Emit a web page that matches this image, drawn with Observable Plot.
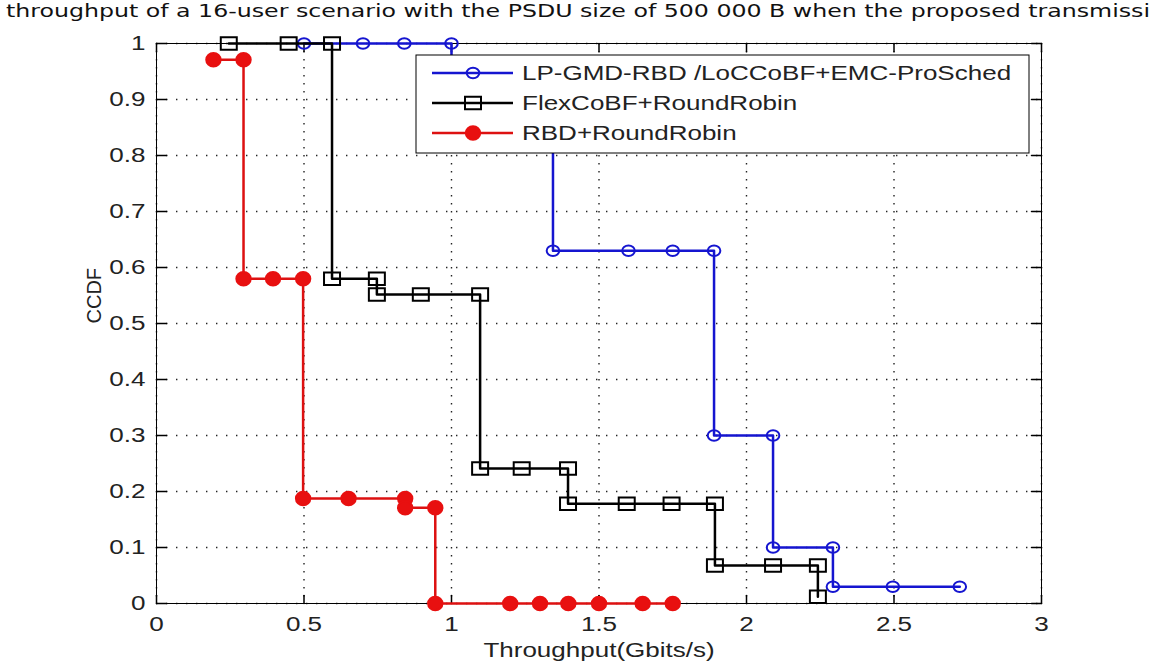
<!DOCTYPE html>
<html><head><meta charset="utf-8">
<script src="https://cdn.jsdelivr.net/npm/d3@7"></script>
<script src="https://cdn.jsdelivr.net/npm/@observablehq/plot@0.6"></script>
<style>
body{margin:0;background:#fff;width:1157px;height:666px;overflow:hidden;}
#title{height:24px;line-height:22px;white-space:nowrap;font-family:"Liberation Sans Narrow","Arial Narrow","DejaVu Sans Condensed","Liberation Sans",sans-serif;font-size:18px;color:#111;padding-left:6px;}
#title span{display:inline-block;transform-origin:0 50%;}
</style></head><body>
<div id="title"><span>throughput of a 16-user scenario with the PSDU size of 500 000 B when the proposed transmissi</span></div>
<div id="chart"></div>
<script>
// ---- data ----
const seriesNames = ["LP-GMD-RBD /LoCCoBF+EMC-ProSched", "FlexCoBF+RoundRobin", "RBD+RoundRobin"];
const seriesColors = ["#1515d0", "#000000", "#dd1111"];
const xTicks = [0, 0.5, 1, 1.5, 2, 2.5, 3];
const yTicks = [0, 0.1, 0.2, 0.3, 0.4, 0.5, 0.6, 0.7, 0.8, 0.9, 1];
const xLabel = "Throughput(Gbits/s)";
const yLabel = "CCDF";

const blueX = [0.5, 0.7, 0.84, 1.0, 1.0, 1.344, 1.344, 1.6, 1.75, 1.89, 1.89, 2.09, 2.09, 2.293, 2.293, 2.496, 2.723];
const blueY = [1, 1, 1, 1, 0.88, 0.88, 0.63, 0.63, 0.63, 0.63, 0.30, 0.30, 0.10, 0.10, 0.03, 0.03, 0.03];

const blackX = [0.245, 0.448, 0.595, 0.595, 0.747, 0.747, 0.896, 1.097, 1.097, 1.238, 1.395, 1.395, 1.594, 1.746, 1.893, 1.893, 2.09, 2.242, 2.242];
const blackY = [1, 1, 1, 0.58, 0.58, 0.552, 0.552, 0.552, 0.241, 0.241, 0.241, 0.178, 0.178, 0.178, 0.178, 0.068, 0.068, 0.068, 0.012];

const redX = [0.193, 0.295, 0.295, 0.395, 0.497, 0.497, 0.651, 0.843, 0.843, 0.945, 0.945, 1.199, 1.30, 1.396, 1.50, 1.648, 1.75];
const redY = [0.971, 0.971, 0.58, 0.58, 0.58, 0.1875, 0.1875, 0.1875, 0.171, 0.171, 0, 0, 0, 0, 0, 0, 0];

// ---- build tables ----
const toRows = (xs, ys) => xs.map((x, i) => ({x, y: ys[i]}));
const series = [toRows(blueX, blueY), toRows(blackX, blackY), toRows(redX, redY)];

// marker shapes (MATLAB 'o', 's', filled 'o')
function ellipseSym(rx, ry) {
  const k = 0.5523;
  return {draw(c) {
    c.moveTo(rx, 0);
    c.bezierCurveTo(rx, ry * k, rx * k, ry, 0, ry);
    c.bezierCurveTo(-rx * k, ry, -rx, ry * k, -rx, 0);
    c.bezierCurveTo(-rx, -ry * k, -rx * k, -ry, 0, -ry);
    c.bezierCurveTo(rx * k, -ry, rx, -ry * k, rx, 0);
    c.closePath();
  }};
}
function rectSym(w, h) {
  return {draw(c) { c.moveTo(-w/2, -h/2); c.lineTo(w/2, -h/2); c.lineTo(w/2, h/2); c.lineTo(-w/2, h/2); c.closePath(); }};
}
const markerDefs = [
  {symbol: ellipseSym(6.3, 5.3), fill: "none"},
  {symbol: rectSym(16, 12.5), fill: "none"},
  {symbol: ellipseSym(7.2, 6.8), fill: "#e81010"}
];
const tickShape = {draw(c, l) { c.moveTo(0, 0); c.lineTo(0, -l); }};

// legend drawn in frame coordinates (MATLAB NorthEast legend)
function legendMark(index, scales, values, dims) {
  const right = dims.width - dims.marginRight - 12;
  const left = dims.marginLeft + 260;
  const top = dims.marginTop + 12;
  const g = d3.create("svg:g").attr("class", "legend").attr("text-anchor", "start");
  g.append("rect").attr("x", left).attr("y", top).attr("width", right - left).attr("height", 98)
    .attr("fill", "white").attr("stroke", "black").attr("stroke-width", 1);
  seriesNames.forEach((name, i) => {
    const cy = top + 18 + i * 30;
    g.append("line").attr("x1", left + 16).attr("x2", left + 97).attr("y1", cy).attr("y2", cy)
      .attr("stroke", seriesColors[i]).attr("stroke-width", 2.5);
    const p = d3.path();
    markerDefs[i].symbol.draw(p);
    g.append("path").attr("d", p.toString()).attr("transform", `translate(${left + 57},${cy})`)
      .attr("fill", markerDefs[i].fill).attr("stroke", i === 2 ? "#e81010" : seriesColors[i]).attr("stroke-width", 2);
    g.append("text").attr("x", left + 106).attr("y", cy).attr("dy", "0.36em")
      .attr("text-anchor", "start").attr("fill", "#222").text(name);
  });
  return g.node();
}

const seriesMarks = series.flatMap((rows, i) => [
  Plot.line(rows, {x: "x", y: "y", stroke: seriesColors[i], strokeWidth: 2.5}),
  Plot.dot(rows, {x: "x", y: "y", symbol: markerDefs[i].symbol, fill: markerDefs[i].fill,
    stroke: i === 2 ? "#e81010" : seriesColors[i], strokeWidth: 2})
]);

const plot = Plot.plot({
  width: 1157,
  height: 642,
  marginTop: 19,
  marginBottom: 63,
  marginLeft: 156,
  marginRight: 116,
  style: {fontFamily: "'Liberation Sans', Arial, sans-serif", fontSize: "20px", background: "white", color: "#222"},
  x: {domain: [0, 3], ticks: xTicks, tickFormat: d => String(d), tickSize: 0, tickPadding: 13, label: null},
  y: {domain: [0, 1], ticks: yTicks, tickFormat: d => String(d), tickSize: 0, tickPadding: 11, label: null},
  marks: [
    Plot.gridX(xTicks, {stroke: "#222", strokeOpacity: 1, strokeWidth: 1.4, strokeDasharray: "1.4,6.6"}),
    Plot.gridY(yTicks, {stroke: "#222", strokeOpacity: 1, strokeWidth: 1.4, strokeDasharray: "1.4,8.6"}),
    Plot.vectorX(xTicks, {frameAnchor: "bottom", length: 8, rotate: 0, anchor: "start", shape: tickShape, stroke: "black"}),
    Plot.vectorX(xTicks, {frameAnchor: "top", length: 8, rotate: 180, anchor: "start", shape: tickShape, stroke: "black"}),
    Plot.vectorY(yTicks, {frameAnchor: "left", length: 10, rotate: 90, anchor: "start", shape: tickShape, stroke: "black"}),
    Plot.vectorY(yTicks, {frameAnchor: "right", length: 10, rotate: -90, anchor: "start", shape: tickShape, stroke: "black"}),
    Plot.frame({stroke: "black", strokeWidth: 1}),
    ...seriesMarks,
    legendMark,
    Plot.text([xLabel], {frameAnchor: "bottom", dy: 47, text: d => d, lineAnchor: "middle", fill: "#222"}),
    Plot.text([yLabel], {frameAnchor: "left", dx: -62, rotate: -90, text: d => d, lineAnchor: "middle", fill: "#222"})
  ]
});
document.getElementById("chart").appendChild(plot);

// horizontal stretch of the MATLAB text rendering
const STRETCH = 1.3;
plot.querySelectorAll("text").forEach(t => {
  const tr = t.getAttribute("transform") || "";
  if (tr.includes("rotate")) return;
  const L = t.getComputedTextLength();
  if (L > 0) {
    t.setAttribute("textLength", (L * STRETCH).toFixed(1));
    t.setAttribute("lengthAdjust", "spacingAndGlyphs");
  }
});

// fit title to the page width
const span = document.querySelector("#title span");
const w = span.getBoundingClientRect().width;
span.style.transform = `scaleX(${(1144 / w).toFixed(4)})`;
</script>
</body></html>
